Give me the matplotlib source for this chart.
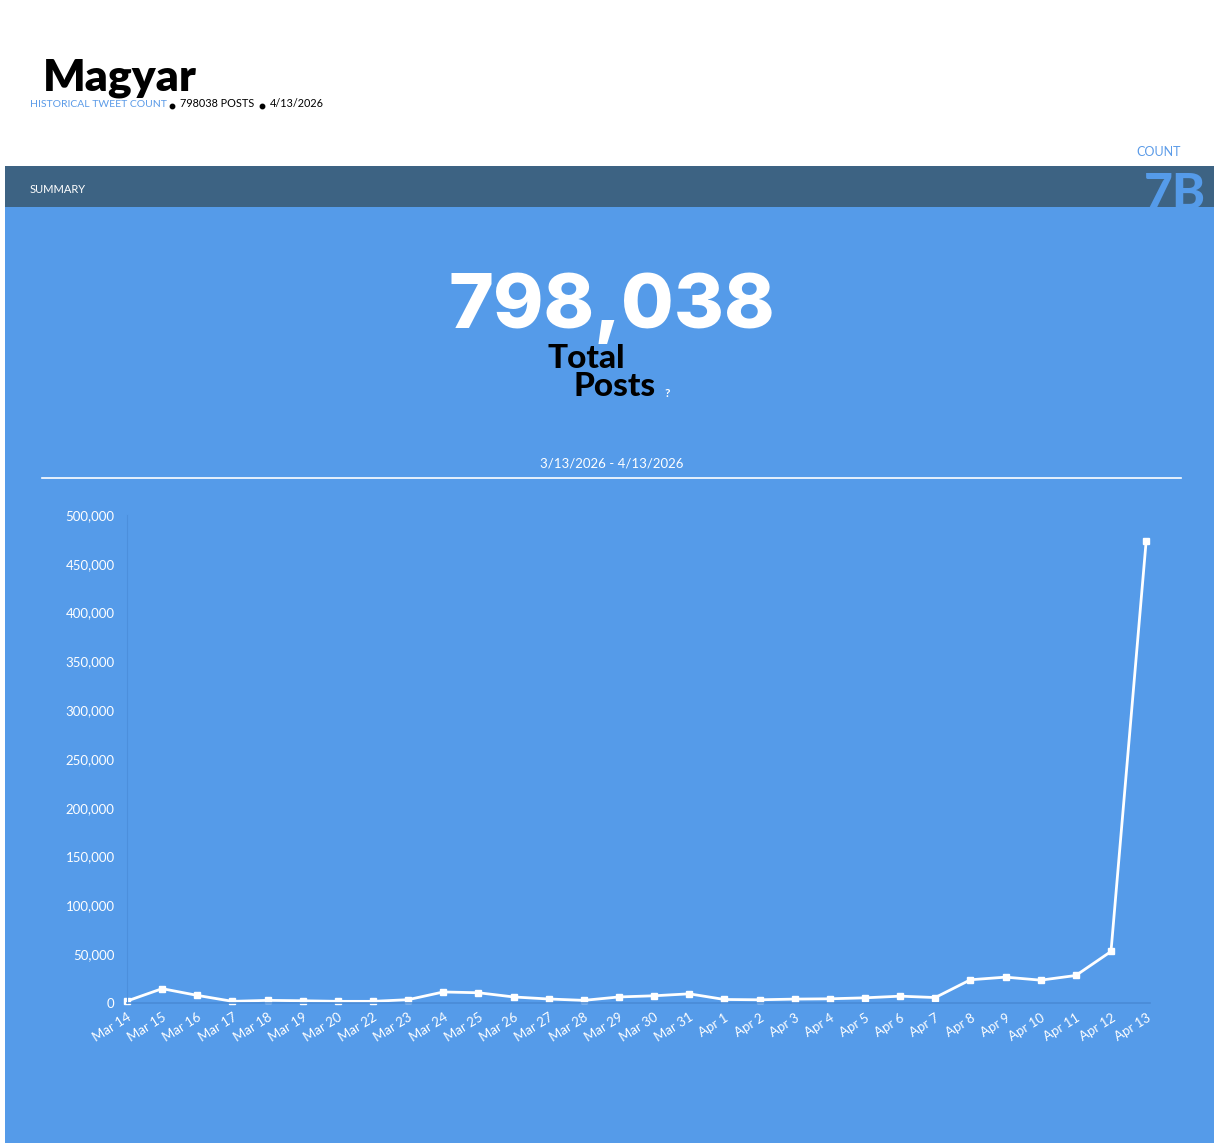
import matplotlib.pyplot as plt
from matplotlib.patches import Rectangle
from matplotlib.ticker import FuncFormatter

# daily post counts
dates = ["Mar 14", "Mar 15", "Mar 16", "Mar 17", "Mar 18", "Mar 19", "Mar 20",
         "Mar 22", "Mar 23", "Mar 24", "Mar 25", "Mar 26", "Mar 27", "Mar 28",
         "Mar 29", "Mar 30", "Mar 31", "Apr 1", "Apr 2", "Apr 3", "Apr 4",
         "Apr 5", "Apr 6", "Apr 7", "Apr 8", "Apr 9", "Apr 10", "Apr 11",
         "Apr 12", "Apr 13"]
counts = [2000, 14700, 7800, 1700, 2700, 2300, 1700, 1700, 3400, 11300,
          10500, 6200, 4100, 2700, 6200, 7400, 9400, 3600, 3300, 4000,
          4300, 5300, 7000, 5600, 23800, 26500, 23400, 28200, 52800, 473000]
yticks = [0, 50000, 100000, 150000, 200000, 250000, 300000, 350000, 400000,
          450000, 500000]

title = "Magyar"
total = 798038
date_str = "4/13/2026"
range_str = "3/13/2026 - 4/13/2026"

W, H = 1214, 1143
BLUE = "#559be9"
BAR = "#3d6383"
LIGHT = "#5b9be8"

plt.rcParams['font.family'] = ['Lato', 'DejaVu Sans']

fig = plt.figure(figsize=(W / 100, H / 100), dpi=100)
fig.patch.set_facecolor("white")


def fx(px):
    return px / W


def fy(py):
    return 1 - py / H


# background blocks
fig.add_artist(Rectangle((fx(5), fy(207)), fx(W - 5), fy(166) - fy(207),
                         transform=fig.transFigure, facecolor=BAR, lw=0, zorder=0))

# header
fig.text(fx(43), fy(90), title, fontsize=32, fontweight="heavy", color="black",
         va="baseline", ha="left")
fig.text(fx(30), fy(107), "HISTORICAL TWEET COUNT", fontsize=7.5, color=LIGHT,
         va="baseline", ha="left")
for bx in [172, 262]:
    fig.add_artist(plt.Line2D([fx(bx)], [fy(106)], transform=fig.transFigure,
                              marker="o", markersize=3.2, color="black", lw=0))
fig.text(fx(180), fy(107), "%d POSTS" % total, fontsize=7.8, color="black",
         va="baseline")
fig.text(fx(270), fy(107), date_str, fontsize=7.8, color="black", va="baseline")

fig.text(fx(1181), fy(156), "COUNT", fontsize=9, color=LIGHT, ha="right",
         va="baseline")
fig.text(fx(30), fy(193), "SUMMARY", fontsize=8, color="white", ha="left",
         va="baseline")
fig.text(fx(1144), fy(209), "7B", fontsize=36, fontweight="black", color=BLUE,
         ha="left", va="baseline", zorder=1)
fig.add_artist(Rectangle((fx(5), fy(1143)), fx(W - 5), fy(207) - fy(1143),
                         transform=fig.transFigure, facecolor=BLUE, lw=0, zorder=1.5))

# summary number
fig.text(fx(612), fy(328), "{:,}".format(total), fontsize=55, fontweight="heavy",
         family=["Inter", "DejaVu Sans"], color="white", ha="center",
         va="baseline", zorder=3)
fig.text(fx(548), fy(368), "Total", fontsize=24, fontweight="black",
         color="black", ha="left", va="baseline", zorder=3)
fig.text(fx(573), fy(396), "Posts", fontsize=24, fontweight="black",
         color="black", ha="left", va="baseline", zorder=3)
fig.text(fx(665), fy(397), "?", fontsize=8.5, fontweight="bold", color="white",
         ha="left", va="baseline", zorder=3)

fig.text(fx(612), fy(468), range_str, fontsize=9.5, color="white", ha="center",
         va="baseline", zorder=3)
fig.add_artist(plt.Line2D([fx(42), fx(1181)], [fy(478), fy(478)],
                          transform=fig.transFigure, color="white", lw=1.2, zorder=3))

# chart
ax = fig.add_axes([fx(127), fy(1003), fx(1150 - 127), fy(515) - fy(1003)])
ax.set_zorder(3)
ax.patch.set_alpha(0)
x = list(range(len(dates)))
ax.plot(x, counts, color="white", lw=2, marker="s", markersize=5,
        markerfacecolor="white", markeredgecolor="white", clip_on=False)
ax.set_xlim(0, 29.11)
ax.set_ylim(0, 500000)
ax.set_yticks(yticks)
ax.yaxis.set_major_formatter(FuncFormatter(lambda v, p: "{:,}".format(int(v))))
ax.set_xticks(x)
ax.set_xticklabels(dates, rotation=32, ha="right", rotation_mode="anchor")
ax.tick_params(axis="both", length=0, colors="white", labelsize=9.5)
ax.tick_params(axis="y", pad=9)
ax.tick_params(axis="x", pad=6)
for s in ["top", "right"]:
    ax.spines[s].set_visible(False)
ax.spines["left"].set_color("#4c8fdc")
ax.spines["left"].set_linewidth(0.8)
ax.spines["bottom"].set_color("#4a8bd6")
ax.spines["bottom"].set_linewidth(1.2)

fig.savefig("out.png", dpi=100)
